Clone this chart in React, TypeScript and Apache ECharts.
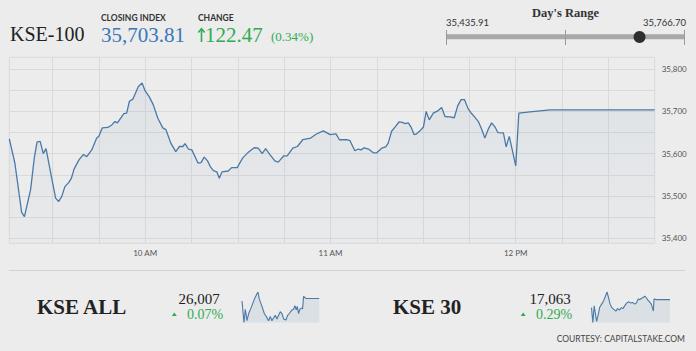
import React, { useEffect, useRef } from "react";
import * as echarts from "echarts";

// ---------- data ----------
// minutes since midnight
const kse100Times = [
  556, 557.8, 560, 560.9, 562.9, 564.1, 565, 566, 567, 567.9, 569.2, 571, 572, 573, 574, 575.3, 576.1, 577, 578.6, 580,
  581.1, 582.7, 584.3, 585, 586.1, 587.9, 589.2, 590.2, 591, 593.1, 594, 594.9, 596, 597.8, 599, 599.9, 601.3, 602.6, 604.1, 605.7,
  606.7, 608.3, 609.9, 611.1, 612.2, 612.9, 614, 615.1, 617.1, 618.1, 619.1, 620.2, 621.2, 622.1, 623.2, 624, 624.9, 626.9, 628, 629.8,
  631.6, 633.2, 635.3, 636.6, 637.9, 639, 640.4, 642, 643.1, 644.9, 646, 647.8, 649.3, 651, 653.6, 655.3, 657.7, 659.9, 661.8, 662.9,
  665.3, 666.3, 667.9, 669, 669.9, 670.9, 672.3, 673.9, 675, 676.6, 677.9, 678.7, 679.8, 680.9, 682.2, 683.3, 684.1, 685.2, 686.1, 687.1,
  687.9, 689, 690.1, 691, 692, 693.3, 694.9, 696, 697.1, 698.7, 700.1, 701.2, 702.3, 703.4, 704.6, 705.7, 706.8, 707.9, 709, 710,
  711.1, 712.2, 713.3, 714.2, 716, 716.9, 717.9, 719, 720, 721, 724.6, 731.1, 765,
];
const kse100Values = [
  35635, 35578, 35461, 35451, 35515, 35590, 35628, 35629, 35600, 35612, 35562, 35495, 35487, 35499, 35522, 35532, 35542, 35564, 35586, 35598,
  35593, 35609, 35637, 35641, 35661, 35662, 35668, 35676, 35673, 35695, 35696, 35724, 35729, 35759, 35767, 35750, 35735, 35716, 35684, 35661,
  35657, 35625, 35605, 35617, 35617, 35624, 35611, 35609, 35578, 35579, 35592, 35583, 35568, 35560, 35557, 35542, 35557, 35559, 35567, 35567,
  35590, 35602, 35614, 35613, 35600, 35612, 35598, 35583, 35580, 35595, 35595, 35613, 35617, 35633, 35637, 35646, 35654, 35645, 35647, 35633,
  35633, 35631, 35607, 35611, 35609, 35614, 35611, 35602, 35602, 35613, 35616, 35625, 35653, 35663, 35675, 35674, 35671, 35673, 35663, 35645,
  35647, 35654, 35663, 35700, 35680, 35696, 35702, 35709, 35688, 35687, 35685, 35713, 35728, 35728, 35706, 35695, 35686, 35676, 35657, 35637,
  35658, 35673, 35663, 35650, 35649, 35616, 35641, 35605, 35571, 35696, 35699, 35703.81, 35703.81,
];

const kseAllTimes = [
  556, 561.4, 565, 569.5, 574, 580.3, 589.3, 596.5, 599.2, 602.8, 610, 616.3, 622.6, 628, 632.5, 637, 641.5, 646, 650.5, 655,
  659.5, 664, 668.5, 674.8, 679.3, 683.8, 691, 695.5, 699.1, 702.7, 705.4, 709, 712.6, 717.1, 719.8, 722.5, 728.8, 764.8,
];
const kseAllValues = [
  26000, 25940, 25977, 25945, 25965, 25980, 26005, 26020, 26025, 26005, 25985, 25965, 25955, 25945, 25957, 25945, 25953, 25960, 25950, 25960,
  25970, 25965, 25950, 25947, 25960, 25965, 25975, 25977, 25987, 25975, 25985, 25965, 25977, 25980, 25978, 26013, 26007, 26007,
];

const kse30Times = [
  556, 559.6, 563.2, 566.8, 569.5, 574, 577.6, 583, 588.4, 593.8, 597.4, 601, 605.5, 610, 615.4, 620.8, 625.3, 630.7, 635.2, 639.7,
  644.2, 649.6, 655, 660.4, 665.8, 671.2, 675.7, 680.2, 684.7, 689.2, 693.7, 698.2, 702.7, 707.2, 711.7, 715.3, 718, 720.7, 722.5, 728.8,
  764.8,
];
const kse30Values = [
  17040, 16997, 17045, 17020, 17000, 17020, 17040, 17050, 17060, 17075, 17085, 17070, 17050, 17040, 17035, 17030, 17037, 17033, 17040, 17037,
  17045, 17053, 17057, 17053, 17055, 17050, 17053, 17065, 17063, 17067, 17069, 17073, 17067, 17060, 17055, 17050, 17040, 17030, 17065, 17063,
  17063,
];

const yGridValues = [35400, 35450, 35500, 35550, 35600, 35650, 35700, 35750, 35800];
const yLabelValues = [35400, 35500, 35600, 35700, 35800];
const xGridValues = [570, 585, 600, 615, 630, 645, 660, 675, 690, 705, 720, 735, 750];
const xLabelValues = [600, 660, 720];

const closingIndex = 35703.81;
const changePoints = 122.47;
const changePct = 0.34;
const dayLow = 35435.91;
const dayHigh = 35766.7;
const kseAllClose = 26007;
const kseAllPct = 0.07;
const kse30Close = 17063;
const kse30Pct = 0.29;

// ---------- styles ----------
const SERIF = '"Liberation Serif", "Times New Roman", serif';
const SANS = 'Lato, "Open Sans", sans-serif';
const LINE = "#4a79a8";
const GREEN = "#2fab52";
const BLUE = "#3a78b5";
const GRID = "#dadada";

const zip = (a: number[], b: number[]) => a.map((t, i) => [t, b[i]]);
const fmt = (v: number, d = 0) =>
  v.toLocaleString("en-US", { minimumFractionDigits: d, maximumFractionDigits: d });
const timeLabel = (v: number) => {
  const h = Math.floor(v / 60);
  if (h === 12) return "12 PM";
  return h > 12 ? `${h - 12} PM` : `${h} AM`;
};

const txt = (text: string, x: number, y: number, font: string, fill: string, align = "left") => ({
  type: "text",
  x,
  y,
  silent: true,
  style: { text, font, fill, textAlign: align, align, textVerticalAlign: "middle", verticalAlign: "middle" },
});

export default function App() {
  const ref = useRef<HTMLDivElement>(null);

  useEffect(() => {
    if (!ref.current) return;
    const chart = echarts.init(ref.current, undefined, { renderer: "svg" });

    const barX = 446;
    const barW = 239;
    const dotX = barX + ((closingIndex - dayLow) / (dayHigh - dayLow)) * barW;

    const sparkArea = { color: "rgba(74,121,168,0.14)", origin: "start" as const };

    chart.setOption({
      animation: false,
      backgroundColor: "#ececec",
      grid: [
        { left: 9.3, top: 57.3, width: 645.4, height: 186, show: true, borderColor: GRID, borderWidth: 1, backgroundColor: "transparent" },
        { left: 242, top: 292, width: 77.3, height: 30.5 },
        { left: 591.5, top: 292, width: 78.5, height: 30.5 },
      ],
      xAxis: [
        {
          type: "value",
          gridIndex: 0,
          min: 556,
          max: 765,
          axisLine: { show: false },
          axisTick: { show: false, customValues: xGridValues },
          splitLine: { show: true, lineStyle: { color: GRID, width: 1 } },
          axisLabel: {
            customValues: xLabelValues,
            formatter: (v: number) => timeLabel(v),
            color: "#555",
            fontSize: 8,
            fontFamily: SANS,
            margin: 6,
          },
        },
        { type: "value", gridIndex: 1, min: 556, max: 765, show: false },
        { type: "value", gridIndex: 2, min: 556, max: 765, show: false },
      ],
      yAxis: [
        {
          type: "value",
          gridIndex: 0,
          position: "right",
          min: 35388,
          max: 35828,
          axisLine: { show: false },
          axisTick: { show: false, customValues: yGridValues },
          splitLine: { show: true, lineStyle: { color: GRID, width: 1 } },
          axisLabel: {
            customValues: yLabelValues,
            formatter: (v: number) => fmt(v),
            color: "#555",
            fontSize: 8,
            fontFamily: SANS,
            margin: 7,
          },
        },
        { type: "value", gridIndex: 1, min: "dataMin", max: "dataMax", show: false },
        { type: "value", gridIndex: 2, min: "dataMin", max: "dataMax", show: false },
      ],
      series: [
        {
          type: "line",
          xAxisIndex: 0,
          yAxisIndex: 0,
          data: zip(kse100Times, kse100Values),
          showSymbol: false,
          lineStyle: { color: LINE, width: 1.3 },
          areaStyle: {
            origin: "start",
            color: new echarts.graphic.LinearGradient(0, 0, 0, 1, [
              { offset: 0, color: "rgba(74,121,168,0.12)" },
              { offset: 1, color: "rgba(74,121,168,0.03)" },
            ]),
          },
        },
        {
          type: "line",
          xAxisIndex: 1,
          yAxisIndex: 1,
          data: zip(kseAllTimes, kseAllValues),
          showSymbol: false,
          lineStyle: { color: LINE, width: 1.1 },
          areaStyle: sparkArea,
        },
        {
          type: "line",
          xAxisIndex: 2,
          yAxisIndex: 2,
          data: zip(kse30Times, kse30Values),
          showSymbol: false,
          lineStyle: { color: LINE, width: 1.1 },
          areaStyle: sparkArea,
        },
      ],
      graphic: [
        // header
        txt("KSE-100", 10, 34, `20px ${SERIF}`, "#222"),
        txt("CLOSING INDEX", 101, 18, `bold 8.5px ${SANS}`, "#333"),
        txt(fmt(closingIndex, 2), 101, 35, `21px ${SERIF}`, BLUE),
        txt("CHANGE", 198, 18, `bold 8.5px ${SANS}`, "#333"),
        { type: "line", silent: true, shape: { x1: 201.5, y1: 42, x2: 201.5, y2: 29 }, style: { stroke: GREEN, lineWidth: 1.6 } },
        {
          type: "polyline",
          silent: true,
          shape: { points: [[198.3, 32.6], [201.5, 28.8], [204.7, 32.6]] },
          style: { stroke: GREEN, lineWidth: 1.6, fill: "none" },
        },
        txt(fmt(changePoints, 2), 205, 35, `21px ${SERIF}`, GREEN),
        txt(`(${changePct.toFixed(2)}%)`, 271, 36.5, `13px ${SERIF}`, GREEN),
        // day's range
        txt("Day's Range", 565.5, 12.8, `bold 12.5px ${SERIF}`, "#333", "center"),
        txt(fmt(dayLow, 2), barX, 22.8, `9.5px ${SANS}`, "#333"),
        txt(fmt(dayHigh, 2), barX + barW + 1, 22.8, `9.5px ${SANS}`, "#333", "right"),
        { type: "rect", silent: true, shape: { x: barX, y: 34.3, width: barW, height: 5 }, style: { fill: "#a8a8a8" } },
        { type: "line", silent: true, shape: { x1: barX + 0.5, y1: 30, x2: barX + 0.5, y2: 45 }, style: { stroke: "#9a9a9a", lineWidth: 1 } },
        { type: "line", silent: true, shape: { x1: barX + barW / 2, y1: 30, x2: barX + barW / 2, y2: 45 }, style: { stroke: "#9a9a9a", lineWidth: 1 } },
        { type: "line", silent: true, shape: { x1: barX + barW - 0.5, y1: 30, x2: barX + barW - 0.5, y2: 45 }, style: { stroke: "#9a9a9a", lineWidth: 1 } },
        { type: "circle", silent: true, shape: { cx: dotX, cy: 37, r: 6 }, style: { fill: "#2e2e2e" } },
        // separator
        { type: "line", silent: true, shape: { x1: 9, y1: 270.5, x2: 685, y2: 270.5 }, style: { stroke: "#d2d2d2", lineWidth: 1 } },
        // bottom tickers
        txt("KSE ALL", 37, 306.5, `bold 21px ${SERIF}`, "#222"),
        txt(fmt(kseAllClose), 199, 299, `15px ${SERIF}`, "#222", "center"),
        { type: "polygon", silent: true, shape: { points: [[171.8, 316], [176.8, 316], [174.3, 312.5]] }, style: { fill: GREEN } },
        txt(`${kseAllPct.toFixed(2)}%`, 187, 314.8, `14px ${SERIF}`, GREEN),
        txt("KSE 30", 393, 306.5, `bold 21px ${SERIF}`, "#222"),
        txt(fmt(kse30Close), 550, 299, `15px ${SERIF}`, "#222", "center"),
        { type: "polygon", silent: true, shape: { points: [[520.7, 316], [525.7, 316], [523.2, 312.5]] }, style: { fill: GREEN } },
        txt(`${kse30Pct.toFixed(2)}%`, 536, 314.8, `14px ${SERIF}`, GREEN),
        txt("COURTESY: CAPITALSTAKE.COM", 685, 339, `8.5px ${SANS}`, "#444", "right"),
      ],
    });

    return () => chart.dispose();
  }, []);

  return (
    <div
      ref={ref}
      style={{ position: "fixed", left: 0, top: 0, width: 696, height: 351, background: "#ececec" }}
    />
  );
}
